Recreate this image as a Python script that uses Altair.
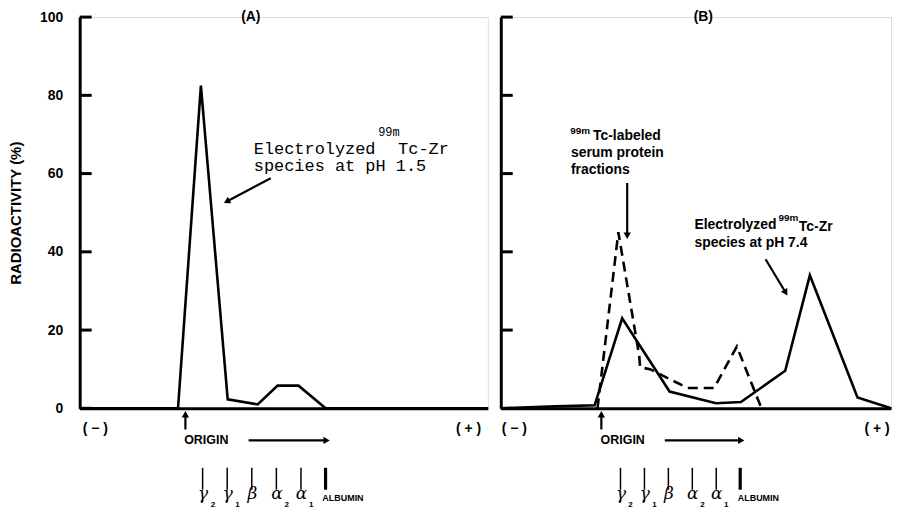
import altair as alt
import pandas as pd

# ---------------- data (x in electrophoretic-fraction units: origin = 0, gamma2 = 1 ... albumin = 6) ----------------
A_POS = [-4.0, 0.0, 0.93, 2.02, 3.24, 4.05, 4.90, 6.0, 12.6]
A_VAL = [0.0, 0.0, 82.5, 2.3, 1.0, 5.8, 5.8, 0.0, 0.0]

B_SOLID_POS = [-4.0, -1.73, -0.08, 1.07, 3.05, 4.99, 6.03, 7.88, 8.91, 10.9, 12.3]
B_SOLID_VAL = [0.0, 0.5, 0.8, 23.0, 4.3, 1.3, 1.6, 9.6, 34.0, 2.8, 0.0]

B_DASH_POS = [0.04, 0.91, 1.78, 1.82, 2.23, 3.80, 4.91, 5.86, 6.89]
B_DASH_VAL = [0.0, 45.0, 13.5, 10.5, 10.0, 5.2, 5.2, 15.8, 0.0]

Y_TICKS = [0, 20, 40, 60, 80, 100]

FRACTION_POS = [1, 2, 3, 4, 5, 6]
FRACTION_GLYPH = ["γ", "γ", "β", "α", "α"]
FRACTION_SUB = ["2", "1", "", "2", "1"]

FONT = "Liberation Sans"
MONO = "Liberation Mono"
SERIF = "DejaVu Serif"
HEIGHT = 393

YSCALE = alt.Scale(domain=[0, 100], nice=False, zero=True)
XAXIS = alt.Axis(labels=False, ticks=False, title=None, grid=False,
                 domainColor="black", domainWidth=3)


def make_panel(width, xdom, series, panel_label, label_x, left_texts, mono_texts, arrows,
               show_y_labels, origin_x, albumin_x, minus_x, plus_x):
    xscale = alt.Scale(domain=xdom, nice=False, zero=False)
    tick_len = 12 * (xdom[1] - xdom[0]) / width
    if show_y_labels:
        yaxis = alt.Axis(values=Y_TICKS, ticks=False, tickSize=0, labelPadding=17,
                         labelFont=FONT, labelFontWeight="bold", labelFontSize=14,
                         labelColor="black", labelFlush=False,
                         title="RADIOACTIVITY (%)", titleFont=FONT, titleFontSize=15,
                         titleFontWeight="bold", titleColor="black", titlePadding=16,
                         grid=False, domainColor="black", domainWidth=3)
    else:
        yaxis = alt.Axis(values=Y_TICKS, ticks=False, tickSize=0, labels=False, title=None,
                         grid=False, domainColor="black", domainWidth=3)

    def X(f):
        return alt.X(f"{f}:Q", scale=xscale, axis=XAXIS)

    def Y(f):
        return alt.Y(f"{f}:Q", scale=YSCALE, axis=yaxis)

    layers = []
    # data lines
    for pos, val, dash in series:
        df = pd.DataFrame({"x": pos, "y": val, "i": list(range(len(pos)))})
        kw = dict(color="black", strokeWidth=2.6)
        if dash:
            kw["strokeDash"] = [10, 6]
        layers.append(alt.Chart(df).mark_line(**kw).encode(x=X("x"), y=Y("y"), order="i:Q"))

    # inward y ticks
    tdf = pd.DataFrame({"t": Y_TICKS, "x0": [xdom[0]] * 6, "x1": [xdom[0] + tick_len] * 6})
    layers.append(alt.Chart(tdf).mark_rule(color="black", strokeWidth=3).encode(
        y=Y("t"), x=X("x0"), x2=alt.X2("x1")))

    # fraction marker lines under the axis
    mdf = pd.DataFrame({"p": FRACTION_POS, "y1": [-15.2] * 6, "y2": [-20.8] * 6,
                        "w": [1.5, 1.5, 1.5, 1.5, 1.5, 3.2]})
    layers.append(alt.Chart(mdf).mark_rule(color="black").encode(
        x=X("p"), y=Y("y1"), y2=alt.Y2("y2"), strokeWidth=alt.StrokeWidth("w:Q", scale=None)))

    # arrows
    adf = pd.DataFrame(arrows, columns=["x", "y", "x2", "y2", "a"])
    layers.append(alt.Chart(adf).mark_rule(color="black", strokeWidth=2.2).encode(
        x=X("x"), y=Y("y"), x2=alt.X2("x2"), y2=alt.Y2("y2")))
    layers.append(alt.Chart(adf).mark_point(shape="triangle", filled=True, size=55,
                                            color="black", opacity=1).encode(
        x=X("x2"), y=Y("y2"), angle=alt.Angle("a:Q", scale=None)))

    # centered bold sans texts
    cen = [(panel_label, label_x, 100, 14), ("( − )", minus_x, -5.4, 14), ("( + )", plus_x, -5.4, 14)]
    for k, s in enumerate(FRACTION_SUB):
        if s:
            cen.append((s, FRACTION_POS[k] + 0.42, -24.6, 8))
    cdf = pd.DataFrame(cen, columns=["t", "x", "y", "s"])
    layers.append(alt.Chart(cdf).mark_text(font=FONT, fontWeight="bold", align="center",
                                           baseline="middle", color="black").encode(
        x=X("x"), y=Y("y"), text="t:N", size=alt.Size("s:Q", scale=None)))

    # left aligned bold sans texts
    lt = [("ORIGIN", origin_x, -8.2, 12.5), ("ALBUMIN", albumin_x, -23.0, 9)] + left_texts
    ldf = pd.DataFrame(lt, columns=["t", "x", "y", "s"])
    layers.append(alt.Chart(ldf).mark_text(font=FONT, fontWeight="bold", align="left",
                                           baseline="middle", color="black").encode(
        x=X("x"), y=Y("y"), text="t:N", size=alt.Size("s:Q", scale=None)))

    if mono_texts:
        mdf2 = pd.DataFrame(mono_texts, columns=["t", "x", "y", "s"])
        layers.append(alt.Chart(mdf2).mark_text(font=MONO, align="left", baseline="middle",
                                                color="black").encode(
            x=X("x"), y=Y("y"), text="t:N", size=alt.Size("s:Q", scale=None)))

    # greek fraction symbols
    gdf = pd.DataFrame({"t": FRACTION_GLYPH, "x": [p + 0.02 for p in FRACTION_POS[:5]],
                        "y": [-21.9] * 5})
    layers.append(alt.Chart(gdf).mark_text(font=SERIF, fontStyle="italic", fontSize=17,
                                           align="center", baseline="middle",
                                           color="black").encode(
        x=X("x"), y=Y("y"), text="t:N"))

    return alt.layer(*layers).properties(width=width, height=HEIGHT)


left = make_panel(
    410, [-4, 12.6], [(A_POS, A_VAL, False)], "(A)", 2.96,
    left_texts=[],
    mono_texts=[("Electrolyzed", 3.08, 66.4, 17), ("99m", 8.14, 70.7, 12),
                ("Tc-Zr", 8.95, 66.2, 17), ("species at pH 1.5", 3.08, 61.9, 17)],
    arrows=[(3.77, 58.8, 2.02, 53.0, 242), (0.3, -5.4, 0.3, -1.8, 0),
            (2.87, -8.2, 6.0, -8.2, 90)],
    show_y_labels=True, origin_x=0.25, albumin_x=5.87, minus_x=-3.36, plus_x=11.82)

right = make_panel(
    392, [-4, 12.3], [(B_SOLID_POS, B_SOLID_VAL, False), (B_DASH_POS, B_DASH_VAL, True)],
    "(B)", 4.46,
    left_texts=[("99m", -1.1, 71.0, 10), ("Tc-labeled", -0.15, 69.5, 14),
                ("serum protein", -1.07, 65.3, 14), ("fractions", -1.07, 60.9, 14),
                ("Electrolyzed", 4.09, 46.8, 14), ("99m", 7.6, 48.6, 10),
                ("Tc-Zr", 8.45, 46.3, 14), ("species at pH 7.4", 4.09, 42.3, 14)],
    mono_texts=[],
    arrows=[(1.28, 57.6, 1.28, 44.4, 180), (7.06, 38.1, 7.88, 29.8, 149),
            (0.2, -5.4, 0.2, -1.8, 0), (2.85, -8.2, 6.0, -8.2, 90)],
    show_y_labels=False, origin_x=0.17, albumin_x=5.9, minus_x=-3.43, plus_x=11.72)

chart = alt.hconcat(left, right, spacing=13, bounds="flush",
                    padding={"left": 0, "top": 0, "right": 0, "bottom": 0}).configure_view(
    stroke=None).configure(background="white")

chart.save("out.html", embed_options={"renderer": "svg", "actions": False})
